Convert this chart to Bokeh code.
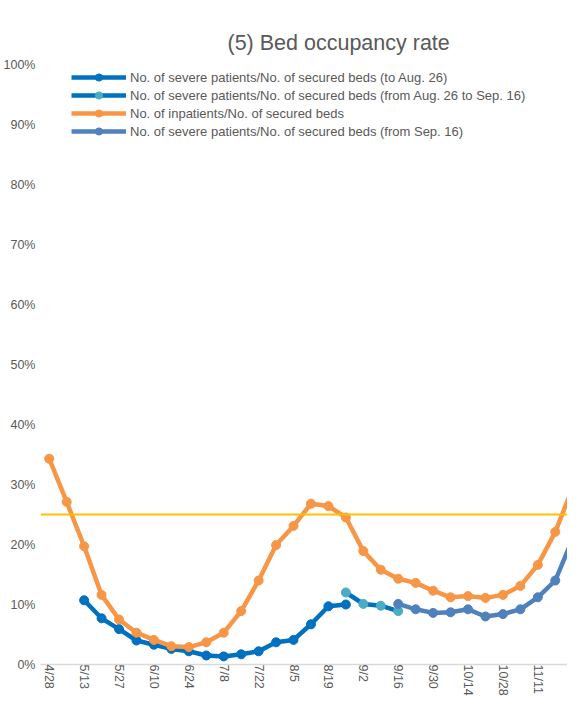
from bokeh.plotting import figure
from bokeh.models import (FixedTicker, Range1d, Span, Legend, LegendItem,
                          PrintfTickFormatter)
from bokeh.embed import file_html
from bokeh.resources import INLINE

# ---------------- data ----------------
dates = ["4/28", "5/6", "5/13", "5/20", "5/27", "6/3", "6/10", "6/17", "6/24",
         "7/1", "7/8", "7/15", "7/22", "7/29", "8/5", "8/12", "8/19", "8/26",
         "9/2", "9/9", "9/16", "9/23", "9/30", "10/7", "10/14", "10/21",
         "10/28", "11/4", "11/11", "11/18", "11/25"]

# No. of inpatients / No. of secured beds (%)
inpatients_start = "4/28"
inpatients = [34.3, 27.1, 19.7, 11.6, 7.5, 5.3, 4.1, 3.05, 2.9, 3.7, 5.3, 8.9,
              14.0, 19.9, 23.1, 26.8, 26.4, 24.5, 18.9, 15.8, 14.3, 13.6, 12.3,
              11.2, 11.4, 11.1, 11.6, 13.1, 16.6, 22.1, 29.5]

# No. of severe patients / No. of secured beds (to Aug. 26)
severe_a_start = "5/13"
severe_a = [10.7, 7.7, 5.9, 4.0, 3.3, 2.6, 2.2, 1.5, 1.35, 1.7, 2.2, 3.7, 4.1,
            6.7, 9.7, 10.0]

# (from Aug. 26 to Sep. 16)
severe_b_start = "8/26"
severe_b = [12.0, 10.1, 9.8, 8.9]

# (from Sep. 16)
severe_c_start = "9/16"
severe_c = [10.1, 9.2, 8.6, 8.7, 9.2, 8.0, 8.4, 9.2, 11.2, 14.0, 21.0]

threshold = 25
y_ticks = [0, 10, 20, 30, 40, 50, 60, 70, 80, 90, 100]

labels = [
    "No. of severe patients/No. of secured beds (to Aug. 26)",
    "No. of severe patients/No. of secured beds (from Aug. 26 to Sep. 16)",
    "No. of inpatients/No. of secured beds",
    "No. of severe patients/No. of secured beds (from Sep. 16)",
]


def xs(start, vals):
    i0 = dates.index(start)
    return list(range(i0, i0 + len(vals)))


FONT = "Liberation Sans"
TXT = "#595959"
DARK_BLUE = "#0070C0"
LIGHT_BLUE = "#4BACC6"
ORANGE = "#F79646"
STEEL = "#4F81BD"

p = figure(width=567, height=698, output_backend="svg", toolbar_location=None,
           x_range=Range1d(-0.5, 29.7), y_range=Range1d(0, 100),
           min_border_top=64, min_border_left=0, min_border_right=0,
           min_border_bottom=0, outline_line_color=None)

p.title.text = "(5) Bed occupancy rate"
p.title.text_font = FONT
p.title.text_font_size = "21.5px"
p.title.text_font_style = "normal"
p.title.text_color = TXT
p.title.align = "left"
p.title.offset = 187
p.title.standoff = 20

p.xgrid.visible = False
p.ygrid.visible = False

# axes
p.yaxis.ticker = FixedTicker(ticks=y_ticks)
p.yaxis.formatter = PrintfTickFormatter(format="%d%%")
p.yaxis.axis_line_color = None
p.yaxis.major_tick_line_color = None
p.yaxis.minor_tick_line_color = None
p.yaxis.major_tick_out = 0
p.yaxis.minor_tick_out = 0
p.yaxis.major_label_text_font = FONT
p.yaxis.major_label_text_font_size = "12.5px"
p.yaxis.major_label_text_color = TXT
p.yaxis.major_label_standoff = 5

xt = list(range(0, len(dates), 2))
p.xaxis.ticker = FixedTicker(ticks=xt)
p.xaxis.major_label_overrides = {i: dates[i] for i in xt}
p.xaxis.major_label_orientation = "vertical"
p.xaxis.axis_line_color = "#D9D9D9"
p.xaxis.axis_line_width = 1.5
p.xaxis.major_tick_line_color = None
p.xaxis.minor_tick_line_color = None
p.xaxis.major_tick_out = 0
p.xaxis.major_tick_in = 0
p.xaxis.minor_tick_out = 0
p.xaxis.minor_tick_in = 0
p.xaxis.major_label_text_font = FONT
p.xaxis.major_label_text_font_size = "12.5px"
p.xaxis.major_label_text_line_height = 1.0
p.xaxis.major_label_text_color = TXT
p.xaxis.major_label_standoff = 0
p.xaxis.axis_label_standoff = 0

# threshold line
p.add_layout(Span(location=threshold, dimension="width", line_color="#FFC000",
                  line_width=2))

LW = 4.5
MS = 9

xa = xs(severe_a_start, severe_a)
la = p.line(xa, severe_a, line_color=DARK_BLUE, line_width=LW, line_join="round")
sa = p.scatter(xa, severe_a, size=MS, fill_color=DARK_BLUE, line_color=DARK_BLUE)

xb = xs(severe_b_start, severe_b)
lb = p.line(xb, severe_b, line_color=DARK_BLUE, line_width=LW, line_join="round")
sb = p.scatter(xb, severe_b, size=MS, fill_color=LIGHT_BLUE, line_color=LIGHT_BLUE)

xi = xs(inpatients_start, inpatients)
li = p.line(xi, inpatients, line_color=ORANGE, line_width=LW, line_join="round")
si = p.scatter(xi, inpatients, size=MS, fill_color=ORANGE, line_color=ORANGE)

xc = xs(severe_c_start, severe_c)
lc = p.line(xc, severe_c, line_color=STEEL, line_width=LW, line_join="round")
sc = p.scatter(xc, severe_c, size=MS, fill_color=STEEL, line_color=STEEL)

legend = Legend(items=[
    LegendItem(label=labels[0], renderers=[la, sa]),
    LegendItem(label=labels[1], renderers=[lb, sb]),
    LegendItem(label=labels[2], renderers=[li, si]),
    LegendItem(label=labels[3], renderers=[lc, sc]),
], location=(31, 524), orientation="vertical")
legend.border_line_color = None
legend.background_fill_alpha = 0
legend.padding = 0
legend.margin = 0
legend.spacing = 0
legend.glyph_width = 55
legend.glyph_height = 18
legend.label_height = 18
legend.label_standoff = 4
legend.label_text_font = FONT
legend.label_text_font_size = "13px"
legend.label_text_color = TXT
p.add_layout(legend)

open("out.html", "w").write(file_html(p, INLINE))
